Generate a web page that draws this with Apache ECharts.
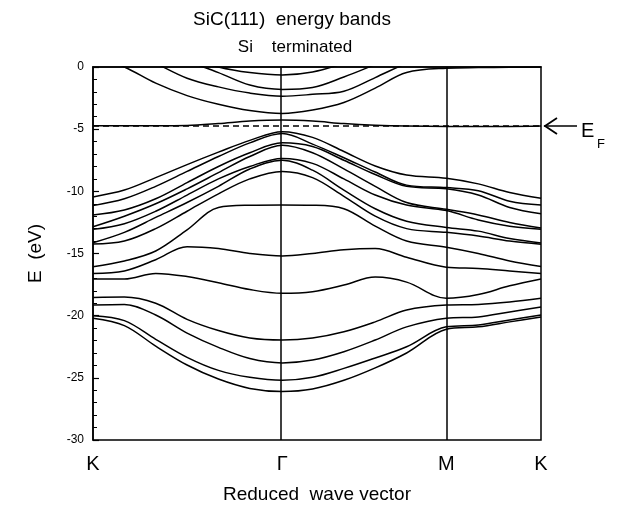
<!DOCTYPE html>
<html>
<head>
<meta charset="utf-8">
<script src="https://cdn.jsdelivr.net/npm/echarts@6.0.0/dist/echarts.min.js"></script>
<style>
  html, body { margin: 0; padding: 0; background: #fff; }
  #chart { width: 628px; height: 506px; }
</style>
</head>
<body>
<div id="chart"></div>
<script>
// k-path positions (K -> Gamma -> M -> K), scaled to total path length 1
var kPath = [0, 0.07, 0.14, 0.21, 0.28, 0.35, 0.4226, 0.49, 0.56, 0.63, 0.70, 0.7887, 0.86, 0.93, 1.0];
var symPoints = [0, 0.4226, 0.7887, 1.0];
var symLabels = ['K', 'Γ', 'M', 'K'];
var fermiLevel = -4.75;

// conduction bands (above the frame they are clipped)
var c1 = [0.9, 0.0, -1.3, -2.3, -3.0, -3.5, -3.73, -3.45, -2.85, -1.7, -0.45, -0.1, -0.05, -0.03, 0.0];
var c2 = [2.5, 1.5, 0.3, -0.9, -1.6, -2.1, -2.35, -2.2, -1.95, -0.85, 0.3, 1.5, 2.0, 2.5, 3.0];
var c3 = [3.5, 2.5, 1.5, 0.5, -0.45, -1.45, -1.8, -1.65, -0.8, 0.2, 1.2, 2.5, 3.0, 3.5, 4.0];
var c4 = [4.0, 3.0, 2.0, 0.8, 0.0, -0.45, -0.64, -0.4, 0.3, 1.2, 2.2, 3.0, 3.5, 4.0, 4.5];
// surface state near E_F
var surf = [-4.72, -4.72, -4.72, -4.7, -4.55, -4.35, -4.27, -4.35, -4.55, -4.68, -4.75, -4.78, -4.78, -4.78, -4.75];
// valence bands
var v1 = [-10.45, -9.9, -8.9, -7.85, -6.85, -5.9, -5.2, -5.66, -6.8, -7.96, -8.69, -8.95, -9.4, -10.1, -10.56];
var v2 = [-11.15, -10.6, -9.6, -8.4, -7.2, -6.1, -5.35, -6.2, -7.3, -8.45, -9.5, -9.7, -9.95, -10.8, -11.1];
var v3 = [-11.9, -11.5, -10.6, -9.3, -8.0, -6.9, -6.1, -6.4, -7.5, -8.65, -9.6, -9.8, -10.3, -11.3, -11.8];
var v4 = [-12.85, -12.0, -11.0, -9.8, -8.5, -7.2, -6.3, -6.9, -8.2, -9.6, -10.9, -11.45, -11.9, -12.5, -12.95];
var v5 = [-13.06, -12.6, -11.6, -10.3, -9.0, -8.0, -7.35, -7.75, -9.0, -10.3, -11.1, -11.55, -12.3, -12.8, -13.05];
var v6 = [-14.13, -13.3, -12.1, -10.9, -9.6, -8.2, -7.5, -8.3, -9.9, -11.4, -12.4, -12.9, -13.2, -13.8, -14.15];
var v7 = [-14.24, -14.0, -13.0, -11.6, -10.2, -9.0, -8.4, -8.9, -10.4, -12.0, -13.0, -13.3, -13.6, -14.0, -14.25];
var v8 = [-16.06, -15.6, -14.8, -13.1, -11.3, -11.12, -11.1, -11.12, -11.4, -12.8, -14.0, -14.5, -15.0, -15.6, -16.05];
var v9 = [-16.6, -16.4, -15.5, -14.45, -14.6, -15.0, -15.2, -15.0, -14.7, -14.6, -15.3, -16.1, -16.2, -16.4, -16.6];
var v10 = [-17.05, -17.05, -16.6, -16.85, -17.35, -17.9, -18.2, -18.07, -17.54, -16.9, -17.3, -18.6, -18.3, -17.6, -17.05];
var v11 = [-18.53, -18.5, -19.0, -20.3, -21.2, -21.8, -21.96, -21.8, -21.3, -20.5, -19.55, -19.15, -19.1, -18.9, -18.6];
var v12 = [-19.15, -19.1, -19.95, -21.4, -22.55, -23.45, -23.8, -23.57, -22.9, -21.96, -20.9, -20.2, -20.1, -19.7, -19.3];
var v13 = [-20.0, -20.4, -21.9, -23.35, -24.4, -24.96, -25.2, -24.96, -24.24, -23.4, -22.5, -20.9, -20.75, -20.35, -19.95];
var v14 = [-20.2, -20.8, -22.45, -23.97, -25.1, -25.85, -26.1, -25.9, -25.2, -24.2, -23.0, -21.1, -20.9, -20.5, -20.1];

var bands = [c1, c2, c3, c4, surf, v1, v2, v3, v4, v5, v6, v7, v8, v9, v10, v11, v12, v13, v14];

var font = '"Liberation Sans", Arial, sans-serif';
var chart = echarts.init(document.getElementById('chart'));

var series = bands.map(function (b) {
  return {
    type: 'line',
    data: b.map(function (e, i) { return [kPath[i], e]; }),
    smooth: 0.35,
    symbol: 'none',
    silent: true,
    clip: true,
    lineStyle: { color: '#000', width: 1.5 }
  };
});

// symmetry lines and Fermi level
series.push({
  type: 'line',
  data: [],
  silent: true,
  markLine: {
    silent: true,
    symbol: 'none',
    label: { show: false },
    lineStyle: { color: '#000', width: 1.5, type: 'solid' },
    data: [
      { xAxis: symPoints[1] },
      { xAxis: symPoints[2] },
      { yAxis: fermiLevel, lineStyle: { type: [6, 4], width: 1.5 } }
    ]
  }
});

chart.setOption({
  animation: false,
  backgroundColor: '#fff',
  title: [
    { text: 'SiC(111)  energy bands', left: 287, top: 5, textAlign: 'center',
      textStyle: { fontFamily: font, fontSize: 19, fontWeight: 'normal', color: '#000' } },
    { text: 'Si    terminated', left: 290, top: 34, textAlign: 'center',
      textStyle: { fontFamily: font, fontSize: 17, fontWeight: 'normal', color: '#000' } }
  ],
  grid: {
    left: 93, top: 67, width: 448, height: 373, outerBoundsMode: 'none',
    show: true, borderColor: '#000', borderWidth: 1.5, backgroundColor: 'transparent'
  },
  xAxis: {
    type: 'value', min: 0, max: 1,
    name: 'Reduced  wave vector', nameLocation: 'middle', nameGap: 45,
    nameTextStyle: { fontFamily: font, fontSize: 19, color: '#000' },
    axisLine: { show: true, lineStyle: { color: '#000', width: 1.5 } },
    axisTick: { show: false },
    splitLine: { show: false },
    axisLabel: {
      customValues: symPoints,
      formatter: function (v) { return symLabels[symPoints.indexOf(v)]; },
      fontFamily: font, fontSize: 20, color: '#000', margin: 14
    }
  },
  yAxis: {
    type: 'value', min: -30, max: 0, interval: 5,
    name: 'E  (eV)', nameLocation: 'middle', nameGap: 48,
    nameTextStyle: { fontFamily: font, fontSize: 19, color: '#000' },
    axisLine: { show: true, lineStyle: { color: '#000', width: 1.5 } },
    axisTick: { show: true, inside: true, length: 6, lineStyle: { color: '#000', width: 1.2 } },
    minorTick: { show: true, splitNumber: 5, length: 4, lineStyle: { color: '#000', width: 1 } },
    splitLine: { show: false },
    axisLabel: { fontFamily: font, fontSize: 12, color: '#000', margin: 9 }
  },
  series: series
});

// E_F arrow and label to the right of the frame
var p = chart.convertToPixel({ gridIndex: 0 }, [1, fermiLevel]);
chart.setOption({
  graphic: [
    { type: 'line', shape: { x1: p[0] + 3, y1: p[1], x2: p[0] + 36, y2: p[1] }, style: { stroke: '#000', lineWidth: 1.5 } },
    { type: 'polyline', shape: { points: [[p[0] + 16, p[1] - 8], [p[0] + 4, p[1]], [p[0] + 16, p[1] + 8]] }, style: { stroke: '#000', lineWidth: 1.8, fill: null } },
    { type: 'text', x: p[0] + 40, y: p[1] + 5, style: { text: 'E', font: '20px ' + font, fill: '#000', textVerticalAlign: 'middle' } },
    { type: 'text', x: p[0] + 56, y: p[1] + 18, style: { text: 'F', font: '13px ' + font, fill: '#000', textVerticalAlign: 'middle' } }
  ]
});
</script>
</body>
</html>
